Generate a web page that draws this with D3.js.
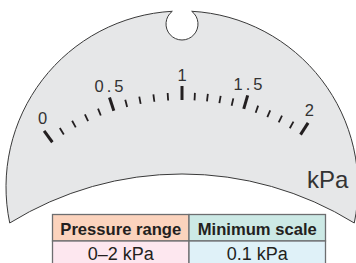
<!DOCTYPE html>
<html>
<head>
<meta charset="utf-8">
<script src="https://d3js.org/d3.v7.min.js"></script>
<style>
  body { margin: 0; background: #fff; }
  svg { display: block; }
</style>
</head>
<body>
<div id="gauge"></div>
<script>
// scale values, 0 to 2 kPa in 0.1 steps
const tickValues = [0, 0.1, 0.2, 0.3, 0.4, 0.5, 0.6, 0.7, 0.8, 0.9, 1,
                    1.1, 1.2, 1.3, 1.4, 1.5, 1.6, 1.7, 1.8, 1.9, 2];
const majorValues = [0, 0.5, 1, 1.5, 2];
const majorLabels = ["0", "0.5", "1", "1.5", "2"];
const unitLabel = "kPa";

const tableHeaders = ["Pressure range", "Minimum scale"];
const tableRow = ["0–2 kPa", "0.1 kPa"];

const width = 356, height = 263;
const cx = 182;

let svg = d3.select("#gauge").append("svg")
    .attr("width", width)
    .attr("height", height);

// gauge plate: outer circle, inner (bottom) circle and a notch on top
let outer = {cy: 187, r: 176},
    inner = {cy: 501.4, r: 327.4},
    notch = {cy: 24, r: 16};

// two circles sharing the same x centre
function meet(a, b) {
    let y = (b.r * b.r - a.r * a.r + a.cy * a.cy - b.cy * b.cy) / (2 * (a.cy - b.cy));
    let dx = Math.sqrt(a.r * a.r - (y - a.cy) * (y - a.cy));
    return {y: y, dx: dx};
}

let corner = meet(outer, inner),
    lip = meet(outer, notch);

let pathStr = "M" + (cx - corner.dx) + "," + corner.y +
    " A" + outer.r + "," + outer.r + " 0 0 1 " + (cx - lip.dx) + "," + lip.y +
    " A" + notch.r + "," + notch.r + " 0 1 0 " + (cx + lip.dx) + "," + lip.y +
    " A" + outer.r + "," + outer.r + " 0 0 1 " + (cx + corner.dx) + "," + corner.y +
    " A" + inner.r + "," + inner.r + " 0 0 0 " + (cx - corner.dx) + "," + corner.y + "Z";

svg.append("path")
    .attr("d", pathStr)
    .attr("fill", "#e6e7e8")
    .attr("stroke", "#3a3a3a")
    .attr("stroke-width", 1);

// the dial scale
let scaleCy = 320, rIn = 220, rMajor = 234, rMinor = 227.5, rLabel = 245;

let angle = d3.scaleLinear()
    .domain([0, 1, 2])
    .range([-36.1, 0, 32.6]);

function pt(v, r, k) {
    let a = angle(v) * (k || 1) * Math.PI / 180;
    return [cx + r * Math.sin(a), scaleCy - r * Math.cos(a)];
}

let g = svg.append("g");

g.selectAll("line.tick")
    .data(tickValues)
    .enter().append("line")
    .attr("class", "tick")
    .attr("x1", d => pt(d, rIn)[0])
    .attr("y1", d => pt(d, rIn)[1])
    .attr("x2", d => pt(d, majorValues.includes(d) ? rMajor : rMinor)[0])
    .attr("y2", d => pt(d, majorValues.includes(d) ? rMajor : rMinor)[1])
    .attr("stroke", "#231f20")
    .attr("stroke-width", d => majorValues.includes(d) ? 3 : 1.8);

g.selectAll("text.label")
    .data(majorValues)
    .enter().append("text")
    .attr("class", "label")
    .attr("x", d => pt(d, rLabel, 0.96)[0] + 1.5)
    .attr("y", d => pt(d, rLabel, 0.96)[1])
    .attr("dy", "0.35em")
    .attr("text-anchor", "middle")
    .attr("font-family", "Liberation Sans, Arial, sans-serif")
    .attr("font-size", 16.5)
    .attr("letter-spacing", 3)
    .attr("fill", "#333")
    .text((d, i) => majorLabels[i]);

svg.append("text")
    .attr("x", 307)
    .attr("y", 188)
    .attr("font-family", "Liberation Sans, Arial, sans-serif")
    .attr("font-size", 24)
    .attr("fill", "#333")
    .text(unitLabel);

// table below the gauge
let tx = d3.scaleOrdinal().domain([0, 1, 2]).range([52.5, 189, 325.5]);
let headFill = ["#fbd3bd", "#cce9e5"], rowFill = ["#fde7ef", "#dff1f8"];
let tableTop = 214.5, headH = 26.5, rowH = 28;

let tbl = svg.append("g");

tableHeaders.forEach(function (h, i) {
    tbl.append("rect")
        .attr("x", tx(i)).attr("y", tableTop)
        .attr("width", tx(i + 1) - tx(i)).attr("height", headH)
        .attr("fill", headFill[i])
        .attr("stroke", "#6d6e70").attr("stroke-width", 1.3);
    tbl.append("text")
        .attr("x", (tx(i) + tx(i + 1)) / 2).attr("y", 235)
        .attr("text-anchor", "middle")
        .attr("font-family", "Liberation Sans, Arial, sans-serif")
        .attr("font-size", 16.6)
        .attr("font-weight", "bold")
        .attr("fill", "#231f20")
        .text(h);
});

tableRow.forEach(function (c, i) {
    tbl.append("rect")
        .attr("x", tx(i)).attr("y", tableTop + headH)
        .attr("width", tx(i + 1) - tx(i)).attr("height", rowH)
        .attr("fill", rowFill[i])
        .attr("stroke", "#6d6e70").attr("stroke-width", 1.3);
    tbl.append("text")
        .attr("x", (tx(i) + tx(i + 1)) / 2).attr("y", 260)
        .attr("text-anchor", "middle")
        .attr("font-family", "Liberation Sans, Arial, sans-serif")
        .attr("font-size", 18)
        .attr("fill", "#231f20")
        .text(c);
});
</script>
</body>
</html>
